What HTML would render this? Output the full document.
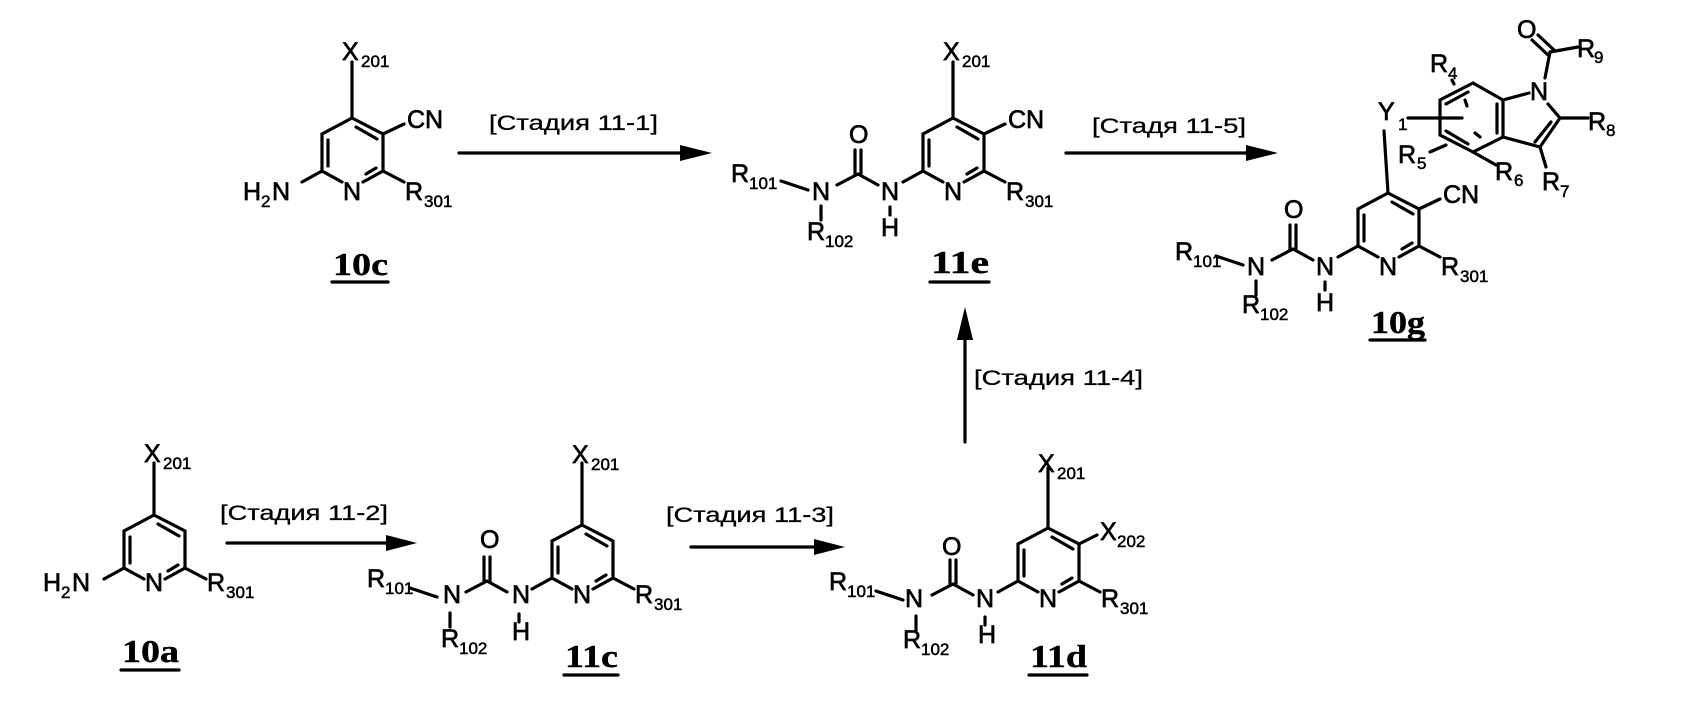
<!DOCTYPE html>
<html><head><meta charset="utf-8"><style>
html,body{margin:0;padding:0;background:#fff;}
svg{display:block;}
text{font-family:"Liberation Sans",Arial,sans-serif;fill:#000;stroke:#000;stroke-width:0.7;}
.m{font-size:25px;}
.s{font-size:17px;stroke-width:0.5;}
.st{font-size:21px;stroke-width:0.3;}
.lb{font-family:"Liberation Serif",serif;font-weight:bold;font-size:32px;stroke-width:0.4;}
line,polyline,path{stroke:#000;stroke-width:3.2;fill:none;stroke-linecap:round;}
</style></head><body>
<svg width="1688" height="708" viewBox="0 0 1688 708" xmlns="http://www.w3.org/2000/svg">
<defs>
<g id="ring">
<polyline points="-10,64 -30,53 -30,16 0,0 31,16 31,53 11,64"/>
<line x1="-24" y1="22" x2="-24" y2="48"/>
<line x1="4" y1="9" x2="25" y2="21"/>
<line x1="24" y1="50" x2="14" y2="56"/>
<line x1="31" y1="53" x2="52" y2="64"/>
<line x1="-30" y1="53" x2="-50" y2="64"/>
</g>
<g id="urea">
<line x1="-95" y1="56" x2="-75" y2="67"/>
<line x1="-95" y1="56" x2="-116" y2="67"/>
<line x1="-98" y1="56" x2="-98" y2="32"/>
<line x1="-92" y1="56" x2="-92" y2="32"/>
<line x1="-63" y1="89" x2="-63" y2="97"/>
<line x1="-172" y1="63" x2="-145" y2="72"/>
<line x1="-132" y1="88" x2="-132" y2="102"/>
</g>
</defs>

<!-- 10c -->
<g transform="translate(352,118)">
<use href="#ring"/>
<line x1="0" y1="0" x2="0" y2="-56"/>
<line x1="31" y1="16" x2="52" y2="6"/>
<text class="m" x="-10" y="-58">X</text><text class="s" x="9" y="-51">201</text>
<text class="m" x="55" y="10">CN</text>
<text class="m" x="-9" y="82">N</text>
<text class="m" x="53" y="82">R</text><text class="s" x="72" y="89">301</text>
<text class="m" x="-109" y="82">H</text><text class="s" x="-91" y="89">2</text><text class="m" x="-80" y="82">N</text>
</g>
<text class="lb" x="333" y="275" textLength="55" lengthAdjust="spacingAndGlyphs">10c</text>
<line x1="332" y1="282" x2="388" y2="282"/>

<!-- arrow 11-1 -->
<line x1="459" y1="153" x2="690" y2="153"/>
<polygon points="712,153 680,145 680,161" fill="#000"/>
<text class="st" x="489" y="130" textLength="169" lengthAdjust="spacingAndGlyphs">[Стадия 11-1]</text>

<!-- 11e -->
<g transform="translate(953,118)">
<use href="#ring"/><use href="#urea"/>
<line x1="0" y1="0" x2="0" y2="-56"/>
<line x1="31" y1="16" x2="52" y2="6"/>
<text class="m" x="-10" y="-58">X</text><text class="s" x="9" y="-51">201</text>
<text class="m" x="55" y="10">CN</text>
<text class="m" x="-9" y="82">N</text>
<text class="m" x="53" y="82">R</text><text class="s" x="72" y="89">301</text>
<text class="m" x="-72" y="82">N</text><text class="m" x="-72" y="118">H</text>
<text class="m" x="-104" y="25">O</text>
<text class="m" x="-141" y="82">N</text>
<text class="m" x="-222" y="64">R</text><text class="s" x="-204" y="71">101</text>
<text class="m" x="-146" y="122">R</text><text class="s" x="-128" y="129">102</text>
</g>
<text class="lb" x="931" y="273" textLength="58" lengthAdjust="spacingAndGlyphs">11e</text>
<line x1="930" y1="282" x2="989" y2="282"/>

<!-- arrow 11-5 -->
<line x1="1066" y1="153" x2="1256" y2="153"/>
<polygon points="1278,153 1246,145 1246,161" fill="#000"/>
<text class="st" x="1092" y="133" textLength="154" lengthAdjust="spacingAndGlyphs">[Стадя 11-5]</text>

<!-- 10g -->
<g transform="translate(1388,193)">
<use href="#ring"/><use href="#urea"/>
<line x1="0" y1="0" x2="-4" y2="-62"/>
<line x1="31" y1="16" x2="52" y2="6"/>
<text class="m" x="55" y="10">CN</text>
<text class="m" x="-9" y="82">N</text>
<text class="m" x="53" y="82">R</text><text class="s" x="72" y="89">301</text>
<text class="m" x="-72" y="82">N</text><text class="m" x="-72" y="118">H</text>
<text class="m" x="-104" y="25">O</text>
<text class="m" x="-141" y="82">N</text>
<text class="m" x="-213" y="67">R</text><text class="s" x="-195" y="74">101</text>
<text class="m" x="-146" y="120">R</text><text class="s" x="-128" y="127">102</text>
</g>
<text class="m" x="1378" y="120">Y</text><text class="s" x="1398" y="130">1</text>
<line x1="1408" y1="118" x2="1462" y2="118"/>
<polyline points="1473,83 1503,100 1503,137 1473,152 1440,135 1440,100 1473,83"/>
<line x1="1497" y1="104" x2="1497" y2="133"/>
<line x1="1446" y1="104" x2="1468" y2="92"/>
<line x1="1446" y1="131" x2="1468" y2="144"/>
<line x1="1465" y1="100" x2="1467" y2="106"/>
<line x1="1475" y1="133" x2="1480" y2="137"/>
<line x1="1452" y1="80" x2="1454" y2="84"/>
<line x1="1430" y1="152" x2="1446" y2="145"/>
<line x1="1473" y1="152" x2="1496" y2="165"/>
<line x1="1503" y1="100" x2="1529" y2="93"/>
<line x1="1548" y1="104" x2="1560" y2="118"/>
<line x1="1560" y1="118" x2="1540" y2="147"/>
<line x1="1551" y1="122" x2="1535" y2="142"/>
<line x1="1540" y1="147" x2="1503" y2="137"/>
<line x1="1560" y1="118" x2="1588" y2="118"/>
<line x1="1540" y1="147" x2="1546" y2="167"/>
<line x1="1545" y1="78" x2="1550" y2="52"/>
<line x1="1550" y1="52" x2="1578" y2="47"/>
<line x1="1548" y1="55" x2="1532" y2="40"/>
<line x1="1554" y1="50" x2="1538" y2="35"/>
<text class="m" x="1530" y="100">N</text>
<text class="m" x="1517" y="38">O</text>
<text class="m" x="1577" y="57">R</text><text class="s" x="1594" y="63">9</text>
<text class="m" x="1588" y="130">R</text><text class="s" x="1606" y="136">8</text>
<text class="m" x="1542" y="190">R</text><text class="s" x="1560" y="197">7</text>
<text class="m" x="1495" y="180">R</text><text class="s" x="1514" y="186">6</text>
<text class="m" x="1398" y="163">R</text><text class="s" x="1417" y="169">5</text>
<text class="m" x="1430" y="72">R</text><text class="s" x="1448" y="79">4</text>
<text class="lb" x="1371" y="333" textLength="54" lengthAdjust="spacingAndGlyphs">10g</text>
<line x1="1370" y1="340" x2="1425" y2="340"/>

<!-- 10a -->
<g transform="translate(154,515)">
<use href="#ring"/>
<line x1="0" y1="0" x2="0" y2="-52"/>
<text class="m" x="-10" y="-53">X</text><text class="s" x="9" y="-46">201</text>
<text class="m" x="-9" y="76">N</text>
<text class="m" x="53" y="76">R</text><text class="s" x="72" y="83">301</text>
<text class="m" x="-111" y="76">H</text><text class="s" x="-93" y="83">2</text><text class="m" x="-82" y="76">N</text>
</g>
<text class="lb" x="122" y="662" textLength="57" lengthAdjust="spacingAndGlyphs">10a</text>
<line x1="121" y1="670" x2="179" y2="670"/>

<!-- arrow 11-2 -->
<line x1="227" y1="543" x2="395" y2="543"/>
<polygon points="417,543 386,535 386,551" fill="#000"/>
<text class="st" x="220" y="520" textLength="168" lengthAdjust="spacingAndGlyphs">[Стадия 11-2]</text>

<!-- 11c -->
<g transform="translate(582,525)">
<use href="#ring"/><use href="#urea"/>
<line x1="0" y1="0" x2="0" y2="-62"/>
<text class="m" x="-10" y="-62">X</text><text class="s" x="9" y="-55">201</text>
<text class="m" x="-9" y="78">N</text>
<text class="m" x="53" y="78">R</text><text class="s" x="72" y="85">301</text>
<text class="m" x="-70" y="78">N</text><text class="m" x="-70" y="115">H</text>
<text class="m" x="-102" y="23">O</text>
<text class="m" x="-139" y="78">N</text>
<text class="m" x="-215" y="62">R</text><text class="s" x="-197" y="69">101</text>
<text class="m" x="-141" y="122">R</text><text class="s" x="-123" y="129">102</text>
</g>
<text class="lb" x="565" y="667" textLength="53" lengthAdjust="spacingAndGlyphs">11c</text>
<line x1="564" y1="675" x2="618" y2="675"/>

<!-- arrow 11-3 -->
<line x1="691" y1="547" x2="823" y2="547"/>
<polygon points="845,547 814,539 814,555" fill="#000"/>
<text class="st" x="666" y="522" textLength="168" lengthAdjust="spacingAndGlyphs">[Стадия 11-3]</text>

<!-- arrow 11-4 -->
<line x1="965" y1="442" x2="965" y2="330"/>
<polygon points="965,307 957,340 973,340" fill="#000"/>
<text class="st" x="974" y="385" textLength="169" lengthAdjust="spacingAndGlyphs">[Стадия 11-4]</text>

<!-- 11d -->
<g transform="translate(1048,528)">
<use href="#ring"/><use href="#urea"/>
<line x1="0" y1="0" x2="0" y2="-60"/>
<line x1="31" y1="16" x2="49" y2="7"/>
<text class="m" x="-10" y="-56">X</text><text class="s" x="9" y="-49">201</text>
<text class="m" x="52" y="12">X</text><text class="s" x="69" y="19">202</text>
<text class="m" x="-9" y="79">N</text>
<text class="m" x="53" y="79">R</text><text class="s" x="72" y="86">301</text>
<text class="m" x="-72" y="79">N</text><text class="m" x="-70" y="115">H</text>
<text class="m" x="-106" y="27">O</text>
<text class="m" x="-143" y="79">N</text>
<text class="m" x="-219" y="62">R</text><text class="s" x="-201" y="69">101</text>
<text class="m" x="-145" y="120">R</text><text class="s" x="-127" y="127">102</text>
</g>
<text class="lb" x="1030" y="667" textLength="57" lengthAdjust="spacingAndGlyphs">11d</text>
<line x1="1029" y1="675" x2="1087" y2="675"/>
</svg>
</body></html>
